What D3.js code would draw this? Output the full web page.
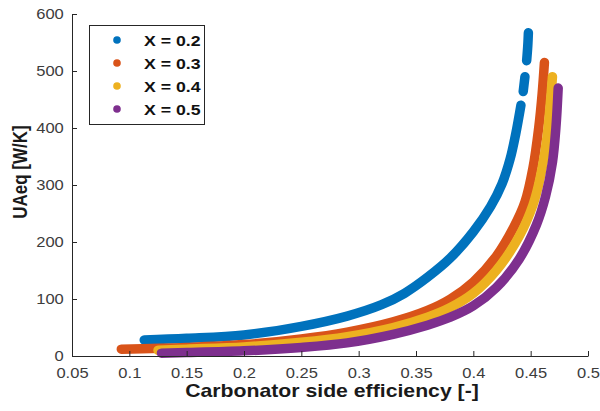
<!DOCTYPE html>
<html>
<head>
<meta charset="utf-8">
<script src="https://cdn.jsdelivr.net/npm/d3@7"></script>
<style>
  html, body { margin: 0; padding: 0; background: #fff; }
  svg { display: block; font-family: "Liberation Sans", Arial, sans-serif; }
</style>
</head>
<body>
<svg id="chart" width="600" height="411"></svg>
<script>
// Series labels and colours
const seriesNames = ["X = 0.2", "X = 0.3", "X = 0.4", "X = 0.5"];
const seriesColors = ["#0072BD", "#D95319", "#EDB120", "#7E2F8E"];

// Carbonator side efficiency [-] vs UAeq [W/K] (NaN marks a gap in the sampled points)
const effX02 = [0.113, 0.15, 0.2, 0.25, 0.29, 0.32, 0.34, 0.36, 0.38, 0.40, 0.415, 0.425, 0.432, 0.437, 0.4415, NaN, 0.4435, 0.445, NaN, 0.4465, 0.4475, 0.448];
const uaX02  = [28, 31, 37, 52, 70, 90, 110, 138, 172, 218, 262, 302, 345, 390, 440, NaN, 464, 490, NaN, 518, 545, 567];

const effX03 = [0.093, 0.15, 0.2, 0.25, 0.29, 0.33, 0.36, 0.38, 0.40, 0.42, 0.435, 0.445, 0.452, 0.457, 0.460, 0.462];
const uaX03  = [12, 15, 20, 30, 42, 60, 80, 100, 130, 175, 225, 270, 330, 400, 460, 515];

const effX04 = [0.125, 0.15, 0.2, 0.25, 0.29, 0.33, 0.36, 0.38, 0.40, 0.42, 0.44, 0.452, 0.458, 0.464, 0.467, 0.469];
const uaX04  = [10, 12, 16, 24, 34, 50, 68, 85, 110, 150, 210, 265, 310, 380, 440, 490];

const effX05 = [0.128, 0.15, 0.2, 0.25, 0.29, 0.33, 0.36, 0.38, 0.40, 0.42, 0.44, 0.455, 0.463, 0.469, 0.472, 0.474];
const uaX05  = [5, 6, 9, 15, 23, 38, 54, 68, 88, 120, 170, 230, 280, 340, 400, 470];

// Axis ticks
const xTicks = [0.05, 0.1, 0.15, 0.2, 0.25, 0.3, 0.35, 0.4, 0.45, 0.5];
const yTicks = [0, 100, 200, 300, 400, 500, 600];

const seriesEff = [effX02, effX03, effX04, effX05];
const seriesUA = [uaX02, uaX03, uaX04, uaX05];

const svg = d3.select("#chart");
const x = d3.scaleLinear().domain([0.05, 0.5]).range([72, 588]);
const y = d3.scaleLinear().domain([0, 600]).range([356, 14]);

const axisColor = "#262626";
const tickTextColor = "#3c3c3c";
const stretch = 1.18; // horizontal widening of the lettering

// Data bands: densely packed markers rendered as a thick round-capped path
const line = d3.line()
  .defined(d => !isNaN(d[0]) && !isNaN(d[1]))
  .x(d => x(d[0]))
  .y(d => y(d[1]))
  .curve(d3.curveCatmullRom.alpha(0.5));

seriesEff.forEach((eff, i) => {
  const pts = eff.map((e, k) => [e, seriesUA[i][k]]);
  svg.append("path")
    .datum(pts)
    .attr("d", line)
    .attr("fill", "none")
    .attr("stroke", seriesColors[i])
    .attr("stroke-width", 9.5)
    .attr("stroke-linecap", "round")
    .attr("stroke-linejoin", "round");
});

// Axes
const xAxis = svg.append("g")
  .attr("transform", "translate(0,356)")
  .call(d3.axisBottom(x).tickValues(xTicks).tickFormat(d3.format("~g"))
    .tickSizeInner(-5).tickSizeOuter(0).tickPadding(12));

const yAxis = svg.append("g")
  .attr("transform", "translate(72,0)")
  .call(d3.axisLeft(y).tickValues(yTicks).tickFormat(d3.format("d"))
    .tickSizeInner(-5).tickSizeOuter(0).tickPadding(7));

[xAxis, yAxis].forEach(g => {
  g.select(".domain").attr("stroke", axisColor).attr("stroke-width", 1);
  g.selectAll(".tick line").attr("stroke", axisColor);
  g.selectAll(".tick text")
    .attr("fill", tickTextColor)
    .attr("transform", `scale(${stretch},1)`)
    .style("font-size", "14px")
    .style("font-family", "'Liberation Sans', Arial, sans-serif");
});

// Axis titles
svg.append("text")
  .attr("transform", `translate(332,397) scale(${stretch},1)`)
  .attr("text-anchor", "middle")
  .style("font-size", "18px").style("font-weight", "bold")
  .attr("fill", "#1a1a1a")
  .text("Carbonator side efficiency [-]");

svg.append("text")
  .attr("transform", `translate(27,172) scale(${stretch},1) rotate(-90)`)
  .attr("text-anchor", "middle")
  .style("font-size", "17px").style("font-weight", "bold")
  .attr("fill", "#1a1a1a")
  .text("UAeq [W/K]");

// Legend
const legend = svg.append("g");
legend.append("rect")
  .attr("x", 89.5).attr("y", 25.5).attr("width", 115).attr("height", 99)
  .attr("fill", "#fff").attr("stroke", axisColor).attr("stroke-width", 1);

seriesNames.forEach((name, i) => {
  const cy = 40 + i * 23;
  legend.append("circle")
    .attr("cx", 117).attr("cy", cy).attr("r", 3.8)
    .attr("fill", seriesColors[i]);
  legend.append("text")
    .attr("transform", `translate(144,${cy + 5.5}) scale(${stretch},1)`)
    .style("font-size", "15px").style("font-weight", "bold")
    .attr("fill", "#111")
    .text(name);
});
</script>
</body>
</html>
